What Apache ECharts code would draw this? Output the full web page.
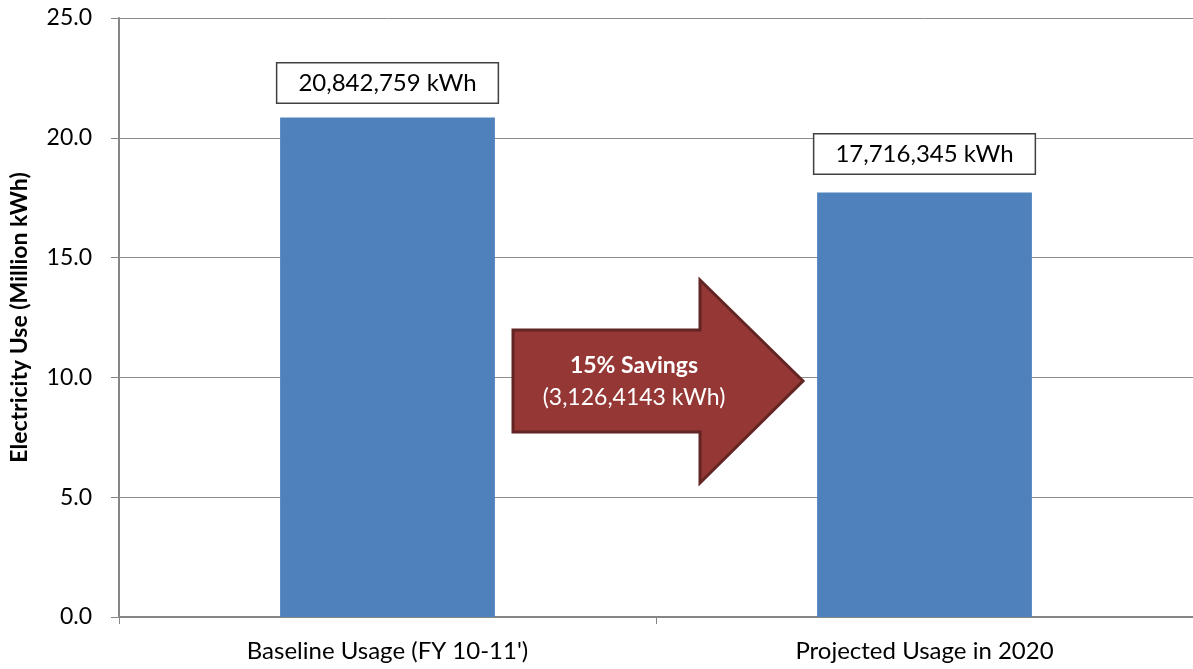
<!DOCTYPE html>
<html>
<head>
<meta charset="utf-8">
<script src="https://cdn.jsdelivr.net/npm/echarts@6/dist/echarts.min.js"></script>
<style>
  html, body { margin: 0; padding: 0; background: #fff; }
  #chart { width: 1193px; height: 669px; }
</style>
</head>
<body>
<div id="chart"></div>
<script>
// Electricity use, in million kWh
const categories = ["Baseline Usage (FY 10-11')", "Projected Usage in 2020"];
const usageMillionKWh = [20.842759, 17.716345];
const usageLabels = ["20,842,759 kWh", "17,716,345 kWh"];
const savingsTitle = "15% Savings";
const savingsAmount = "(3,126,4143 kWh)";
const yAxisTitle = "Electricity Use (Million kWh)";

const FONT = "Lato, 'Open Sans', sans-serif";
const chart = echarts.init(document.getElementById('chart'), null, { renderer: 'canvas' });

// Savings arrow drawn between the two bars
const arrowPoints = [
  [513, 330], [700, 330], [700, 280], [803, 381],
  [700, 483], [700, 432], [513, 432]
];

// Label boxes sit a little higher above the second bar
const labelDistances = [15, 19];

chart.setOption({
  animation: false,
  grid: { left: 115, top: 18, width: 1080, bottom: 52, containLabel: false },
  xAxis: {
    type: 'category',
    data: categories,
    axisLine: { lineStyle: { color: '#868686', width: 2 } },
    axisTick: { show: true, alignWithLabel: false, length: 7, lineStyle: { color: '#868686', width: 1 } },
    axisLabel: { color: '#000', fontFamily: FONT, fontSize: 24, margin: 22 }
  },
  yAxis: {
    type: 'value',
    min: 0, max: 25, interval: 5,
    name: yAxisTitle,
    nameLocation: 'middle',
    nameGap: 88,
    nameTextStyle: { color: '#000', fontFamily: FONT, fontSize: 23, fontWeight: 'bold' },
    axisLine: { show: true, lineStyle: { color: '#868686', width: 2 } },
    axisTick: { show: true, length: 8, lineStyle: { color: '#868686' } },
    axisLabel: {
      color: '#000', fontFamily: FONT, fontSize: 23, margin: 27,
      formatter: v => v.toFixed(1)
    },
    splitLine: { show: true, lineStyle: { color: '#8c8c8c', width: 1 } }
  },
  series: [{
    type: 'bar',
    data: usageMillionKWh.map((v, i) => ({
      value: v,
      label: { distance: labelDistances[i] }
    })),
    barWidth: '40%',
    itemStyle: { color: '#4f81bd' },
    label: {
      show: true,
      position: 'top',
      formatter: p => usageLabels[p.dataIndex],
      color: '#000',
      fontFamily: FONT,
      fontSize: 24,
      backgroundColor: '#fff',
      borderColor: '#404040',
      borderWidth: 1.5,
      padding: [8, 21, 7, 21]
    }
  }],
  graphic: [
    {
      type: 'polygon',
      shape: { points: arrowPoints },
      style: { fill: '#953735', stroke: '#632523', lineWidth: 3 },
      z: 100
    },
    {
      type: 'text',
      x: 634, y: 366,
      style: {
        text: savingsTitle, fill: '#fff', font: "bold 23px " + FONT,
        textAlign: 'center', textVerticalAlign: 'middle'
      },
      z: 101
    },
    {
      type: 'text',
      x: 634, y: 398,
      style: {
        text: savingsAmount, fill: '#fff', font: "23px " + FONT,
        textAlign: 'center', textVerticalAlign: 'middle'
      },
      z: 101
    }
  ]
});
</script>
</body>
</html>
